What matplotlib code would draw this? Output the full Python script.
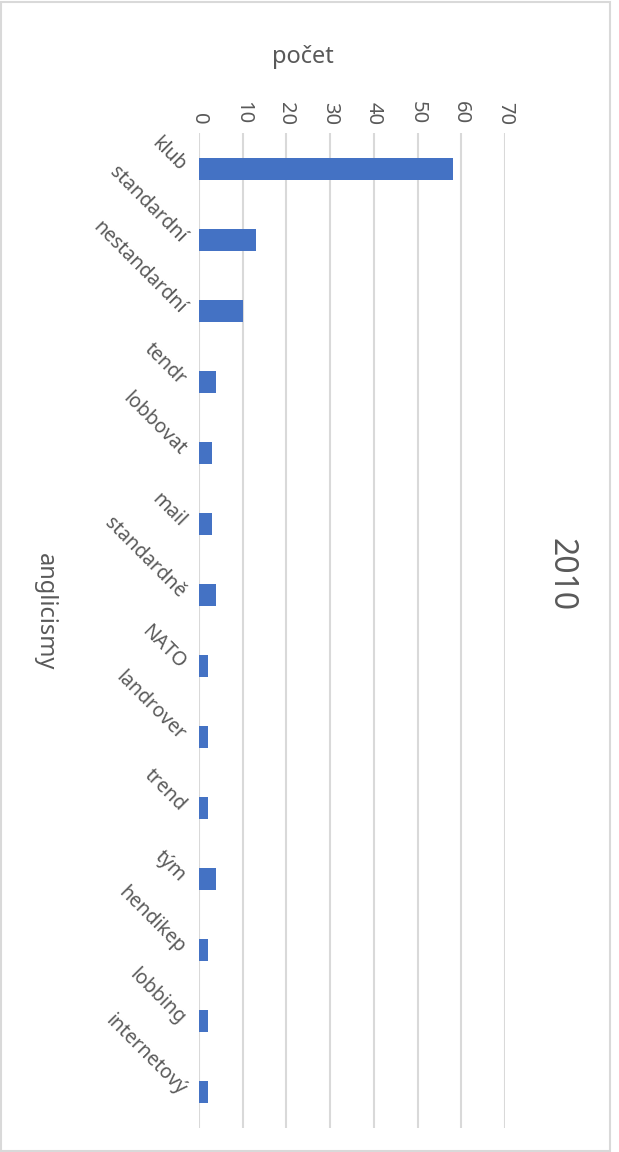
import numpy as np
import matplotlib.pyplot as plt
from matplotlib.patches import Rectangle

plt.rcParams['font.family'] = ['Noto Sans', 'DejaVu Sans']

# data
words = ['klub', 'standardní', 'nestandardní', 'tendr', 'lobbovat', 'mail',
         'standardně', 'NATO', 'landrover', 'trend', 'tým', 'hendikep',
         'lobbing', 'internetový']
counts = [58, 13, 10, 4, 3, 3, 4, 2, 2, 2, 4, 2, 2, 2]
ticks = [0, 10, 20, 30, 40, 50, 60, 70]

text_col = '#595959'
grid_col = '#d9d9d9'

fig = plt.figure(figsize=(6.19, 11.52), dpi=100)
ax = fig.add_axes([199 / 619, 1 - 1128 / 1152, 306 / 619, 995 / 1152])

y = np.arange(len(words))
ax.barh(y, counts, height=0.31, color='#4472c4', zorder=3)

ax.set_xlim(0, 70)
ax.set_ylim(len(words) - 0.5, -0.5)

# value axis on top, labels rotated
ax.xaxis.tick_top()
ax.set_xticks(ticks)
ax.set_xticklabels([str(t) for t in ticks], rotation=-90, fontsize=14.5, color=text_col)
ax.tick_params(axis='x', length=0, pad=6)

ax.set_yticks(y)
ax.set_yticklabels(words, fontsize=14, color=text_col, rotation=-45,
                   ha='right', va='center', rotation_mode='anchor')
ax.tick_params(axis='y', length=0, pad=12)

ax.grid(axis='x', color=grid_col, linewidth=1.5, zorder=0)
for s in ax.spines.values():
    s.set_visible(False)

# titles
fig.text(303 / 619, 1 - 57 / 1152, 'počet', fontsize=17, color=text_col,
         ha='center', va='center')
fig.text(45 / 619, 1 - 612 / 1152, 'anglicismy', fontsize=17, color=text_col,
         ha='center', va='center', rotation=-90)
fig.text(561 / 619, 1 - 575 / 1152, '2010', fontsize=23, color=text_col,
         ha='center', va='center', rotation=-90)

# chart border
fig.add_artist(Rectangle((0.5 / 619, 1.5 / 1152), 609.5 / 619, 1149 / 1152,
                         transform=fig.transFigure, fill=False,
                         edgecolor=grid_col, linewidth=1.5))

fig.savefig('out.png', dpi=100)
